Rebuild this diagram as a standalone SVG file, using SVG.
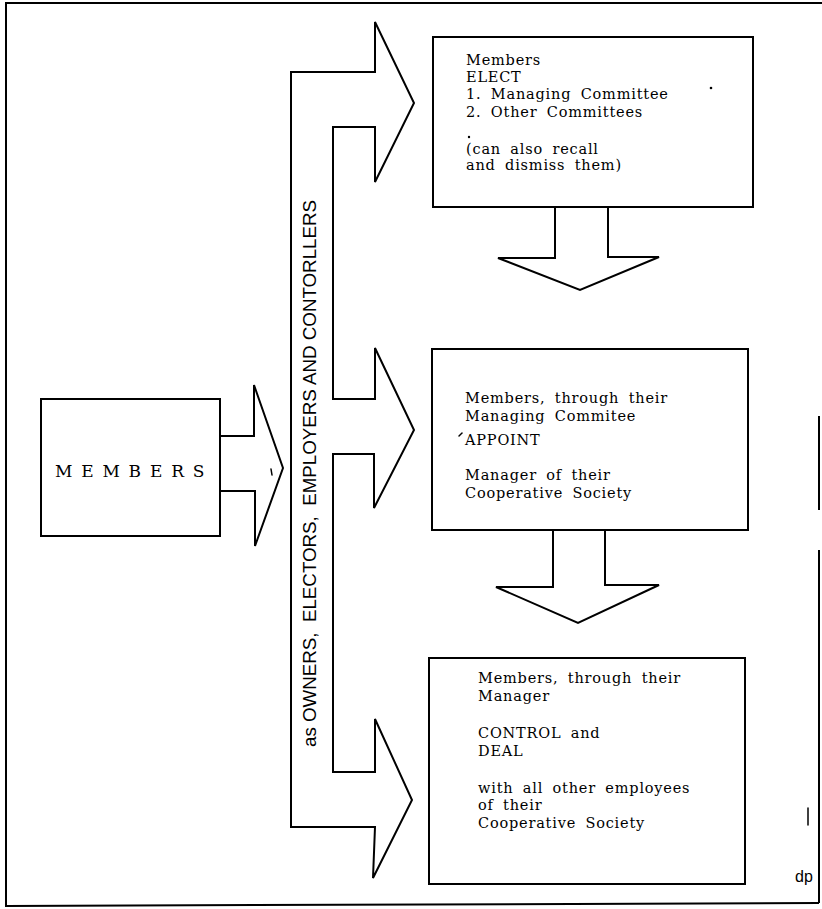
<svg xmlns="http://www.w3.org/2000/svg" width="822" height="909" viewBox="0 0 822 909">
  <style>
    .ln { fill: none; stroke: #000; stroke-width: 2; stroke-linejoin: miter; }
    .shape { fill: #fff; stroke: #000; stroke-width: 2; stroke-linejoin: miter; }
    .txt { font-family: "DejaVu Serif", "Liberation Serif", serif; font-size: 14.5px; letter-spacing: 0.8px; word-spacing: 4px; fill: #000; }
    .label { font-family: "DejaVu Serif", "Liberation Serif", serif; font-size: 17px; letter-spacing: 8.8px; fill: #000; }
    .side { font-family: "Liberation Sans", Arial, sans-serif; font-size: 18.6px; fill: #000; }
    .mark { fill: none; stroke: #000; stroke-width: 1.5; stroke-linecap: round; }
  </style>

  <rect width="822" height="909" fill="#fff"/>

  <!-- page frame -->
  <g id="frame">
    <path class="ln" d="M822,3 L6,3 L6,906 L819,903"/>
    <path class="ln" d="M819,416 L819,510 M819,550 L819,903"/>
  </g>

  <!-- connectors: branching arrow band and flow arrows -->
  <g id="connectors">
    <polygon class="shape" points="220,436 254,436 254,385 283,468 255,546 255,491 220,491"/>
    <polygon class="shape" points="375,22 414,103 375,182 375,127 333,127 333,399 375,399 375,348 414,430 374,508 374,454 333,454 333,772 375,772 375,719 412,800 373,878 375,827 291,827 291,72 375,72"/>
    <polygon class="shape" points="555,207 555,258 498,258 580,290 659,257 608,257 608,207"/>
    <polygon class="shape" points="553,529 553,587 496,587 578,623 659,585 605,585 605,529"/>
    <text class="side" transform="translate(316,747) rotate(-90)" textLength="547" lengthAdjust="spacingAndGlyphs" xml:space="preserve">as OWNERS,  ELECTORS,  EMPLOYERS AND CONTORLLERS</text>
  </g>

  <!-- source node -->
  <g id="members">
    <rect class="shape" x="41" y="399" width="179" height="137"/>
    <text class="label" x="55" y="477">MEMBERS</text>
  </g>

  <!-- elected committees -->
  <g id="elect">
    <rect class="shape" x="433" y="37" width="320" height="170"/>
    <text class="txt" x="466" y="65">Members</text>
    <text class="txt" x="466" y="82">ELECT</text>
    <text class="txt" x="466" y="99">1. Managing Committee</text>
    <text class="txt" x="466" y="117">2. Other Committees</text>
    <text class="txt" x="466" y="154">(can also recall</text>
    <text class="txt" x="466" y="170">and dismiss them)</text>
  </g>

  <!-- appointment of manager -->
  <g id="appoint">
    <rect class="shape" x="432" y="349" width="316" height="181"/>
    <text class="txt" x="465" y="403">Members, through their</text>
    <text class="txt" x="465" y="421">Managing Commitee</text>
    <text class="txt" x="465" y="445">APPOINT</text>
    <text class="txt" x="465" y="480">Manager of their</text>
    <text class="txt" x="465" y="498">Cooperative Society</text>
  </g>

  <!-- control of employees -->
  <g id="control">
    <rect class="shape" x="429" y="658" width="316" height="226"/>
    <text class="txt" x="478" y="683">Members, through their</text>
    <text class="txt" x="478" y="701">Manager</text>
    <text class="txt" x="478" y="738">CONTROL and</text>
    <text class="txt" x="478" y="756">DEAL</text>
    <text class="txt" x="478" y="793">with all other employees</text>
    <text class="txt" x="478" y="810">of their</text>
    <text class="txt" x="478" y="828">Cooperative Society</text>
  </g>

  <!-- small print marks -->
  <g id="marks">
    <path class="mark" d="M459,436 L462,433"/>
    <path class="mark" d="M271,469 L272,475"/>
    <path class="mark" d="M808,808 L808,825"/>
    <circle cx="711" cy="88" r="1.3"/>
    <circle cx="469" cy="137" r="1.2"/>
  </g>

  <text x="795" y="882" font-family="'Liberation Sans', Arial, sans-serif" font-size="16" fill="#000">dp</text>
</svg>
